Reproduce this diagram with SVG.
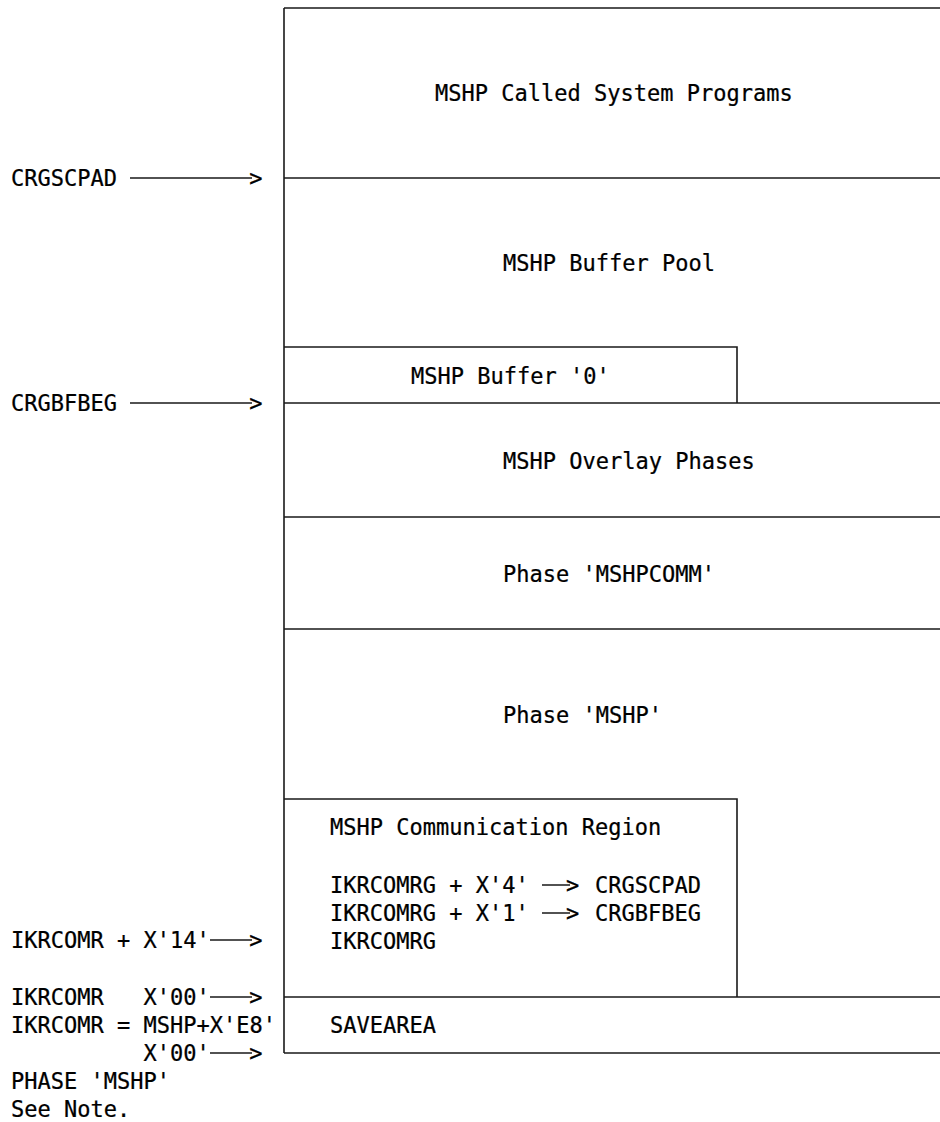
<svg xmlns="http://www.w3.org/2000/svg" width="940" height="1122" viewBox="0 0 940 1122">
<style>
  text { font-family: "DejaVu Sans Mono", "Liberation Mono", monospace; font-size: 23px; fill: #000; stroke: #000; stroke-width: 0.25; }
  .ln { stroke: #1a1a1a; stroke-width: 1.6; fill: none; }
</style>
<rect width="940" height="1122" fill="#fff"/>
<g id="memory-frame">
  <path class="ln" d="M284,8 V1053 M284,8 H940 M284,178 H940 M284,403 H940 M284,517 H940 M284,629 H940 M284,997 H940 M284,1053 H940"/>
</g>
<g id="called-system-programs"><text transform="translate(435 101) scale(0.957 1)">MSHP Called System Programs</text></g>
<g id="buffer-pool"><text transform="translate(503 271) scale(0.957 1)">MSHP Buffer Pool</text></g>
<g id="buffer-0">
  <path class="ln" d="M284,347 H737 V403"/>
  <text transform="translate(411 384) scale(0.957 1)">MSHP Buffer '0'</text>
</g>
<g id="overlay-phases"><text transform="translate(503 469) scale(0.957 1)">MSHP Overlay Phases</text></g>
<g id="phase-mshpcomm"><text transform="translate(503 582) scale(0.957 1)">Phase 'MSHPCOMM'</text></g>
<g id="phase-mshp"><text transform="translate(503 723) scale(0.957 1)">Phase 'MSHP'</text></g>
<g id="comm-region">
  <path class="ln" d="M284,799 H737 V997"/>
  <text transform="translate(330 835) scale(0.957 1)">MSHP Communication Region</text>
  <text transform="translate(330 893) scale(0.957 1)">IKRCOMRG + X'4'</text>
  <text transform="translate(595 893) scale(0.957 1)">CRGSCPAD</text>
  <text transform="translate(330 921) scale(0.957 1)">IKRCOMRG + X'1'</text>
  <text transform="translate(595 921) scale(0.957 1)">CRGBFBEG</text>
  <text transform="translate(330 949) scale(0.957 1)">IKRCOMRG</text>
</g>
<g id="savearea"><text transform="translate(330 1033) scale(0.957 1)">SAVEAREA</text></g>
<g id="left-labels">
  <text transform="translate(11 186) scale(0.957 1)">CRGSCPAD</text>
  <text transform="translate(11 411) scale(0.957 1)">CRGBFBEG</text>
  <text transform="translate(11 948) scale(0.957 1)">IKRCOMR + X'14'</text>
  <text transform="translate(11 1005) scale(0.957 1)" xml:space="preserve">IKRCOMR   X'00'</text>
  <text transform="translate(11 1033) scale(0.957 1)">IKRCOMR = MSHP+X'E8'</text>
  <text transform="translate(143.4 1061) scale(0.957 1)">X'00'</text>
  <text transform="translate(11 1089) scale(0.957 1)">PHASE 'MSHP'</text>
  <text transform="translate(11 1117) scale(0.957 1)">See Note.</text>
</g>
<g id="connectors">
  <path class="ln" d="M130,178 H252 M130,403 H252 M210,940 H252 M210,997 H252 M210,1053 H252 M542,885 H570 M542,913 H570"/>
  <text transform="translate(249.3 186) scale(0.957 1)">&gt;</text>
  <text transform="translate(249.3 411) scale(0.957 1)">&gt;</text>
  <text transform="translate(249.3 948) scale(0.957 1)">&gt;</text>
  <text transform="translate(249.3 1005) scale(0.957 1)">&gt;</text>
  <text transform="translate(249.3 1061) scale(0.957 1)">&gt;</text>
  <text transform="translate(566 893) scale(0.957 1)">&gt;</text>
  <text transform="translate(566 921) scale(0.957 1)">&gt;</text>
</g>
</svg>
